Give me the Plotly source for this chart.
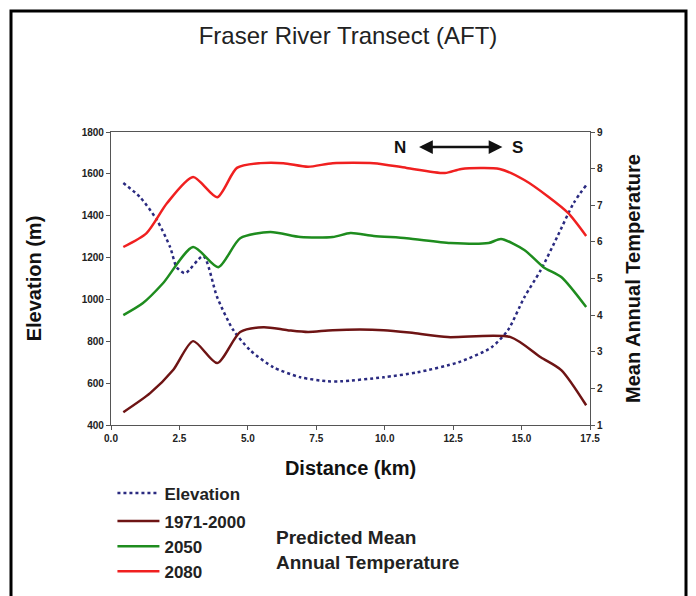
import plotly.graph_objects as go

# Elevation profile (m), left axis
elev_km = [0.45, 1.06, 1.68, 2.16, 2.4, 2.71, 3.37, 3.88, 4.47, 5.09, 5.93, 6.92, 7.9, 8.4,
           9.96, 11.2, 12.7, 13.9, 14.5, 15.1, 15.7, 16.3, 16.9, 17.36]
elev_m = [1556, 1489, 1379, 1250, 1154, 1125, 1207, 1010, 853, 757, 676, 628, 609, 609,
          628, 652, 700, 771, 853, 1010, 1140, 1298, 1460, 1546]

# Mean annual temperature, right axis
t80_km = [0.45, 1.3, 2.05, 3.0, 3.88, 4.6, 5.46, 6.3, 7.2, 8.1, 9.6, 10.8, 12.2, 12.8, 14.2,
          15.1, 16.0, 16.7, 17.36]
t80 = [5.86, 6.24, 7.06, 7.77, 7.22, 8.02, 8.15, 8.15, 8.05, 8.15, 8.15, 8.02, 7.88, 7.99, 7.99,
       7.69, 7.22, 6.79, 6.16]

t50_km = [0.45, 1.17, 1.9, 3.0, 3.92, 4.72, 5.82, 6.92, 8.1, 8.75, 9.6, 10.8, 12.4, 13.8, 14.25,
          15.1, 15.8, 16.45, 17.36]
t50 = [4.0, 4.33, 4.87, 5.86, 5.31, 6.1, 6.27, 6.13, 6.13, 6.24, 6.16, 6.1, 5.97, 5.97, 6.08,
       5.78, 5.31, 5.04, 4.22]

t71_km = [0.45, 1.43, 2.27, 3.0, 3.88, 4.72, 5.57, 6.45, 7.2, 8.1, 9.96, 11.06, 12.3, 14.6,
          15.7, 16.45, 17.36]
t71 = [1.35, 1.87, 2.5, 3.29, 2.69, 3.54, 3.67, 3.59, 3.54, 3.59, 3.59, 3.51, 3.4, 3.4,
       2.85, 2.5, 1.54]

x_ticks = [0, 2.5, 5, 7.5, 10, 12.5, 15, 17.5]

FONT = "Liberation Sans, Arial, sans-serif"
SM = 0.7

fig = go.Figure()
fig.add_trace(go.Scatter(x=elev_km, y=elev_m, name="Elevation", mode="lines",
                         line=dict(color="#2a2a80", width=2.5, dash="dot", shape="spline", smoothing=SM),
                         legendgroup="a", yaxis="y"))
fig.add_trace(go.Scatter(x=t71_km, y=t71, name="1971-2000", mode="lines",
                         line=dict(color="#6e1414", width=2.5, shape="spline", smoothing=SM),
                         legendgroup="b", yaxis="y2"))
fig.add_trace(go.Scatter(x=t50_km, y=t50, name="2050", mode="lines",
                         line=dict(color="#1e8c1e", width=2.5, shape="spline", smoothing=SM),
                         legendgroup="b", yaxis="y2"))
fig.add_trace(go.Scatter(x=t80_km, y=t80, name="2080", mode="lines",
                         line=dict(color="#f02020", width=2.5, shape="spline", smoothing=SM),
                         legendgroup="b", yaxis="y2"))

tickfont = dict(family=FONT, size=10, color="#222", weight="bold")
axtitle = dict(family=FONT, size=20, color="#111", weight="bold")

fig.update_layout(
    width=696, height=596,
    margin=dict(l=111, r=106, t=132, b=171, autoexpand=False),
    paper_bgcolor="white", plot_bgcolor="white",
    font=dict(family=FONT),
    title=dict(text="Fraser River Transect (AFT)", x=0.5, xanchor="center",
               y=1 - 36 / 596, yanchor="middle",
               font=dict(family=FONT, size=24, color="#222")),
    xaxis=dict(range=[0, 17.5], tickvals=x_ticks, tickformat=".1f",
               showline=True, linecolor="#555", linewidth=1.2, mirror=True,
               ticks="outside", ticklen=4, tickcolor="#555", showgrid=False, zeroline=False,
               tickfont=tickfont,
               title=dict(text="Distance (km)", font=axtitle, standoff=17)),
    yaxis=dict(range=[400, 1800], dtick=200, showline=True, linecolor="#555", linewidth=1.2,
               ticks="outside", ticklen=4, tickcolor="#555", showgrid=False, zeroline=False,
               tickfont=tickfont,
               title=dict(text="Elevation (m)", font=axtitle, standoff=34)),
    yaxis2=dict(range=[1, 9], dtick=1, overlaying="y", side="right", showline=True,
                linecolor="#555", linewidth=1.2, ticks="outside", ticklen=4, tickcolor="#555",
                showgrid=False, zeroline=False, tickfont=tickfont,
                title=dict(text="Mean Annual Temperature", font=axtitle, standoff=23)),
    legend=dict(x=0.003, y=-0.172, xanchor="left", yanchor="top", traceorder="grouped",
                tracegroupgap=3, bgcolor="rgba(0,0,0,0)",
                font=dict(family=FONT, size=17, color="#222", weight="bold"),
                itemwidth=42),
    showlegend=True,
)

fig.add_annotation(xref="paper", yref="paper", x=(274 - 111) / 479, y=-(550 - 425) / 293,
                   xanchor="left", yanchor="middle", align="left", showarrow=False,
                   text="Predicted Mean<br>Annual Temperature",
                   font=dict(family=FONT, size=19, color="#222", weight="bold"))

# N <-> S direction marker
fig.add_annotation(x=14.3, y=1728, ax=11.2, ay=1728, xref="x", yref="y", axref="x", ayref="y",
                   text="", showarrow=True, arrowhead=2, arrowside="end+start",
                   arrowsize=1.1, arrowwidth=2.5, arrowcolor="#111")
fig.add_annotation(x=10.56, y=1728, xref="x", yref="y", text="N", showarrow=False,
                   font=dict(family=FONT, size=17, color="#111", weight="bold"))
fig.add_annotation(x=14.85, y=1728, xref="x", yref="y", text="S", showarrow=False,
                   font=dict(family=FONT, size=17, color="#111", weight="bold"))

# outer frame
fig.add_shape(type="rect", xref="paper", yref="paper",
              x0=(11 - 111) / 479, x1=(686 - 111) / 479,
              y0=-0.7, y1=1 + (132 - 11) / 293,
              line=dict(color="black", width=3), fillcolor="rgba(0,0,0,0)", layer="below")

fig.write_html("out.html")
